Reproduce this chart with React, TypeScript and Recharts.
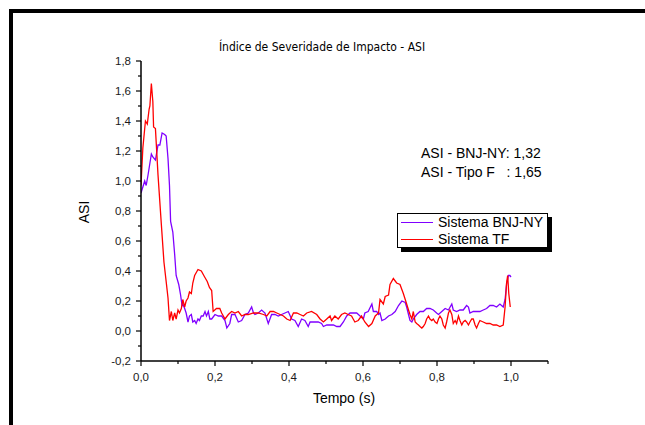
import { Legend, Line, LineChart, XAxis, YAxis } from "recharts";

// Sistema TF (red)
const tfTime = [
  0, 0.005, 0.012, 0.017, 0.022, 0.024, 0.028, 0.032, 0.034, 0.039, 0.046, 0.055, 0.062, 0.068, 0.073, 0.077,
  0.082, 0.086, 0.091, 0.095, 0.1, 0.104, 0.109, 0.113, 0.118, 0.122, 0.127, 0.131, 0.136, 0.14, 0.145, 0.154,
  0.163, 0.172, 0.179, 0.185, 0.191, 0.195, 0.204, 0.213, 0.218, 0.227, 0.236, 0.245, 0.254, 0.263, 0.272, 0.281,
  0.29, 0.304, 0.317, 0.331, 0.34, 0.349, 0.358, 0.367, 0.376, 0.385, 0.394, 0.403, 0.412, 0.421, 0.43, 0.439,
  0.448, 0.461, 0.475, 0.484, 0.493, 0.502, 0.511, 0.515, 0.524, 0.533, 0.542, 0.551, 0.56, 0.569, 0.578, 0.587,
  0.596, 0.605, 0.615, 0.624, 0.633, 0.642, 0.646, 0.655, 0.66, 0.669, 0.673, 0.682, 0.691, 0.7, 0.709, 0.718,
  0.723, 0.727, 0.732, 0.736, 0.741, 0.745, 0.75, 0.754, 0.759, 0.763, 0.768, 0.772, 0.777, 0.781, 0.786, 0.79,
  0.795, 0.8, 0.804, 0.808, 0.813, 0.817, 0.822, 0.826, 0.831, 0.835, 0.84, 0.844, 0.849, 0.853, 0.858, 0.862,
  0.867, 0.871, 0.876, 0.88, 0.885, 0.889, 0.894, 0.898, 0.903, 0.907, 0.912, 0.916, 0.925, 0.934, 0.943, 0.952,
  0.961, 0.97, 0.979, 0.984, 0.988, 0.991, 0.994, 0.998,
];
const tfValues = [
  0.97, 1.22, 1.4, 1.38, 1.48, 1.5, 1.65, 1.53, 1.36, 1.35, 1.04, 0.71, 0.46, 0.33, 0.22, 0.07,
  0.13, 0.07, 0.12, 0.08, 0.14, 0.12, 0.15, 0.21, 0.16, 0.2, 0.22, 0.26, 0.25, 0.32, 0.37, 0.41,
  0.4, 0.36, 0.33, 0.29, 0.27, 0.13, 0.15, 0.15, 0.12, 0.08, 0.11, 0.13, 0.12, 0.13, 0.1, 0.11,
  0.11, 0.12, 0.12, 0.11, 0.1, 0.13, 0.13, 0.12, 0.11, 0.1, 0.08, 0.07, 0.12, 0.12, 0.11, 0.1,
  0.12, 0.13, 0.11, 0.08, 0.06, 0.08, 0.1, 0.07, 0.1, 0.08, 0.11, 0.12, 0.11, 0.1, 0.06, 0.07,
  0.1, 0.06, 0.03, 0.05, 0.1, 0.12, 0.21, 0.18, 0.23, 0.24, 0.31, 0.35, 0.32, 0.31, 0.25, 0.18,
  0.14, 0.11, 0.08, 0.13, 0.06, 0.05, 0.04, 0.03, 0.02, 0.03, 0.05, 0.08, 0.1, 0.08, 0.07, 0.08,
  0.06, 0.05, 0.08, 0.1, 0.08, 0.04, 0.02, 0.06, 0.12, 0.14, 0.11, 0.05, 0.07, 0.05, 0.1, 0.07,
  0.04, 0.06, 0.07, 0.06, 0.04, 0.06, 0.08, 0.08, 0.04, 0.02, 0.05, 0.07, 0.06, 0.05, 0.05, 0.04,
  0.04, 0.03, 0.04, 0.16, 0.32, 0.37, 0.25, 0.16,
];

// Sistema BNJ-NY (violet)
const bnjTime = [
  0, 0.01, 0.014, 0.019, 0.028, 0.032, 0.039, 0.046, 0.051, 0.057, 0.064, 0.068, 0.073, 0.077, 0.08, 0.086,
  0.091, 0.095, 0.102, 0.107, 0.111, 0.113, 0.118, 0.122, 0.127, 0.131, 0.136, 0.14, 0.145, 0.149, 0.154, 0.158,
  0.163, 0.168, 0.173, 0.177, 0.182, 0.186, 0.191, 0.2, 0.209, 0.218, 0.227, 0.232, 0.24, 0.245, 0.254, 0.263,
  0.272, 0.281, 0.29, 0.299, 0.304, 0.308, 0.317, 0.326, 0.335, 0.344, 0.353, 0.362, 0.371, 0.38, 0.389, 0.398,
  0.407, 0.416, 0.425, 0.434, 0.443, 0.452, 0.457, 0.47, 0.479, 0.488, 0.493, 0.502, 0.511, 0.52, 0.529, 0.538,
  0.547, 0.556, 0.565, 0.574, 0.583, 0.592, 0.601, 0.605, 0.614, 0.624, 0.628, 0.637, 0.642, 0.646, 0.651, 0.66,
  0.669, 0.678, 0.687, 0.696, 0.705, 0.714, 0.718, 0.723, 0.727, 0.732, 0.736, 0.745, 0.754, 0.763, 0.772, 0.781,
  0.79, 0.799, 0.804, 0.813, 0.822, 0.831, 0.84, 0.844, 0.853, 0.862, 0.871, 0.88, 0.885, 0.889, 0.898, 0.907,
  0.916, 0.925, 0.934, 0.943, 0.952, 0.961, 0.97, 0.979, 0.984, 0.988, 0.993, 0.997, 1.0,
];
const bnjValues = [
  0.92, 1.0, 0.97, 1.04, 1.18, 1.16, 1.14, 1.24, 1.24, 1.32, 1.31, 1.3, 1.15, 0.97, 0.73, 0.66,
  0.51, 0.37, 0.31, 0.24, 0.17, 0.18, 0.15, 0.12, 0.06, 0.1, 0.11, 0.06, 0.07, 0.05, 0.08, 0.07,
  0.1, 0.1, 0.13, 0.1, 0.13, 0.08, 0.08, 0.11, 0.1, 0.1, 0.07, 0.02, 0.05, 0.11, 0.11, 0.06,
  0.07, 0.11, 0.12, 0.16, 0.12, 0.11, 0.12, 0.14, 0.12, 0.05, 0.11, 0.11, 0.1, 0.11, 0.12, 0.13,
  0.08, 0.07, 0.03, 0.08, 0.07, 0.03, 0.06, 0.06, 0.06, 0.05, 0.03, 0.04, 0.04, 0.04, 0.03, 0.03,
  0.06, 0.1, 0.12, 0.12, 0.12, 0.1, 0.08, 0.12, 0.13, 0.18, 0.13, 0.13, 0.11, 0.12, 0.07, 0.08,
  0.1, 0.11, 0.13, 0.17, 0.2, 0.19, 0.16, 0.11, 0.07, 0.06, 0.08, 0.11, 0.13, 0.13, 0.15, 0.15,
  0.14, 0.12, 0.11, 0.13, 0.15, 0.14, 0.18, 0.14, 0.13, 0.14, 0.14, 0.17, 0.16, 0.12, 0.13, 0.13,
  0.13, 0.14, 0.15, 0.17, 0.17, 0.16, 0.18, 0.16, 0.21, 0.31, 0.37, 0.37, 0.36,
];

const xTicks = [0, 0.1, 0.2, 0.3, 0.4, 0.5, 0.6, 0.7, 0.8, 0.9, 1.0, 1.1];
const yTicks = [-0.2, -0.1, 0, 0.1, 0.2, 0.3, 0.4, 0.5, 0.6, 0.7, 0.8, 0.9, 1.0, 1.1, 1.2, 1.3, 1.4, 1.5, 1.6, 1.7, 1.8];

const tfData = tfTime.map((t, i) => ({ t, asi: tfValues[i] }));
const bnjData = bnjTime.map((t, i) => ({ t, asi: bnjValues[i] }));

const FONT = "'Liberation Sans', Arial, sans-serif";
const fmt = (v: number) => v.toFixed(1).replace(".", ",");
const isMajor = (v: number) => Math.round(v * 10) % 2 === 0;

const XTick = ({ x, y, payload }: any) => {
  const major = isMajor(payload.value);
  return (
    <g>
      <line x1={x} x2={x} y1={y} y2={y + (major ? 5 : 3)} stroke="#000" strokeWidth={1.2} />
      {major && (
        <text x={x} y={y + 20} textAnchor="middle" fontSize={11.5} fontFamily={FONT} fill="#1a1a1a">
          {fmt(payload.value)}
        </text>
      )}
    </g>
  );
};

const YTick = ({ x, y, payload }: any) => {
  const major = isMajor(payload.value);
  return (
    <g>
      <line x1={x - (major ? 5 : 3)} x2={x} y1={y} y2={y} stroke="#000" strokeWidth={1.2} />
      {major && (
        <text x={x - 10} y={y + 4} textAnchor="end" fontSize={11.5} fontFamily={FONT} fill="#1a1a1a">
          {fmt(payload.value)}
        </text>
      )}
    </g>
  );
};

const LegendBox = ({ payload }: any) => (
  <div
    style={{
      width: 151,
      height: 35,
      boxSizing: "border-box",
      border: "1px solid #000",
      background: "#fff",
      boxShadow: "4px 4px 0 #000",
      fontFamily: FONT,
      fontSize: 14,
      lineHeight: "17px",
      paddingTop: 0,
    }}
  >
    {(payload || []).map((p: any) => (
      <div key={p.value} style={{ display: "flex", alignItems: "center", whiteSpace: "nowrap" }}>
        <span style={{ display: "inline-block", width: 32, height: 0, borderTop: `1.3px solid ${p.color}`, marginLeft: 3, marginRight: 5 }} />
        <span>{p.value}</span>
      </div>
    ))}
  </div>
);

export default function App() {
  return (
    <div style={{ position: "absolute", left: 0, top: 0, width: 645, height: 425, background: "#fff" }}>
      <div
        style={{
          position: "absolute",
          left: 9,
          top: 9,
          width: 636,
          height: 416,
          boxSizing: "border-box",
          borderTop: "4px solid #000",
          borderLeft: "4px solid #000",
        }}
      />
      <LineChart width={645} height={425} margin={{ top: 61, right: 97, bottom: 34, left: 81 }}>
        <XAxis
          type="number"
          dataKey="t"
          domain={[0, 1.1]}
          ticks={xTicks}
          interval={0}
          tickSize={0}
          tickMargin={0}
          tick={<XTick />}
          height={30}
          axisLine={{ stroke: "#000", strokeWidth: 1.5 }}
          allowDataOverflow
        />
        <YAxis
          type="number"
          domain={[-0.2, 1.8]}
          ticks={yTicks}
          interval={0}
          tickSize={0}
          tickMargin={0}
          tick={<YTick />}
          width={60}
          axisLine={{ stroke: "#000", strokeWidth: 1.5 }}
          allowDataOverflow
        />
        <Line
          data={bnjData}
          dataKey="asi"
          name="Sistema BNJ-NY"
          type="linear"
          stroke="#8000ff"
          strokeWidth={1.3}
          dot={false}
          isAnimationActive={false}
        />
        <Line
          data={tfData}
          dataKey="asi"
          name="Sistema TF"
          type="linear"
          stroke="#ff0000"
          strokeWidth={1.3}
          dot={false}
          isAnimationActive={false}
        />
        <Legend
          layout="vertical"
          align="center"
          verticalAlign="middle"
          content={<LegendBox />}
          wrapperStyle={{ position: "absolute", left: 397, top: 213, width: 151, height: 35 }}
        />
        <text x={322} y={51} textAnchor="middle" fontSize={12} fontFamily="'DejaVu Sans Condensed', 'Liberation Sans Narrow', 'Liberation Sans', sans-serif" fill="#000">
          Índice de Severidade de Impacto - ASI
        </text>
        <text x={421} y={158} fontSize={14} fontFamily={FONT} fill="#000" style={{ whiteSpace: "pre" }}>
          ASI - BNJ-NY: 1,32
        </text>
        <text x={421} y={177} fontSize={14} fontFamily={FONT} fill="#000" style={{ whiteSpace: "pre" }}>
          {"ASI - Tipo F   : 1,65"}
        </text>
        <text x={344} y={403} textAnchor="middle" fontSize={14} fontFamily={FONT} fill="#000">
          Tempo (s)
        </text>
        <text x={89} y={212} textAnchor="middle" fontSize={14} fontFamily={FONT} fill="#000" transform="rotate(-90 89 212)">
          ASI
        </text>
      </LineChart>
    </div>
  );
}
